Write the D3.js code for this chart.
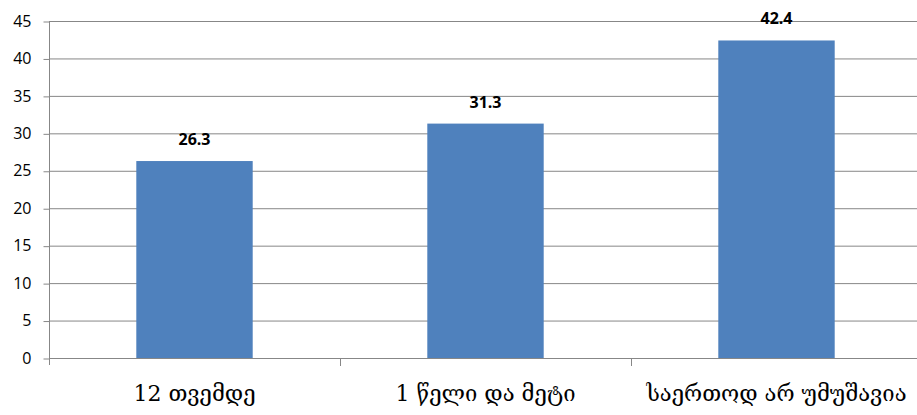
<!DOCTYPE html>
<html><head><meta charset="utf-8">
<script src="https://cdn.jsdelivr.net/npm/d3@7"></script>
<style>body{margin:0;background:#fff}svg{display:block}</style>
</head><body>
<svg id="c" width="917" height="415"></svg>
<script>
const categories = ["12 თვემდე", "1 წელი და მეტი", "საერთოდ არ უმუშავია"];
const values = [26.3, 31.3, 42.4];
const yTicks = [0, 5, 10, 15, 20, 25, 30, 35, 40, 45];

(function () {
const svg = d3.select("#c");
const mLeft = 49, mRight = 922, mTop = 21, mBottom = 358;
const x = d3.scaleBand().domain(categories).range([mLeft, mRight]).paddingInner(0.6).paddingOuter(0.3);
const xb = d3.scaleBand().domain(categories).range([mLeft, mRight]);
const y = d3.scaleLinear().domain([0, 45]).range([mBottom, mTop]);
const grid = "#878787";

// gridlines
svg.append("g").selectAll("line").data(yTicks.filter(d => d > 0)).join("line")
  .attr("x1", mLeft).attr("x2", mRight)
  .attr("y1", d => y(d) + 0.5).attr("y2", d => y(d) + 0.5)
  .attr("stroke", grid).attr("stroke-width", 1);

// bars
svg.append("g").selectAll("rect").data(values).join("rect")
  .attr("x", (d, i) => x(categories[i]))
  .attr("width", x.bandwidth())
  .attr("y", d => y(d))
  .attr("height", d => y(0) - y(d))
  .attr("fill", "#4F81BD");

// y axis
const ya = svg.append("g").attr("transform", `translate(${mLeft + 0.5},0)`)
  .call(d3.axisLeft(y).tickValues(yTicks).tickSize(6).tickPadding(12));
ya.select(".domain").remove();
ya.selectAll("line").attr("stroke", grid).attr("transform", "translate(0,0.5)");
ya.selectAll("text").attr("font-family", "Open Sans, Liberation Sans, sans-serif").attr("font-size", 16).attr("fill", "#000");
svg.append("line").attr("x1", mLeft + 0.5).attr("x2", mLeft + 0.5).attr("y1", mTop).attr("y2", mBottom + 7).attr("stroke", grid);

// x axis
svg.append("line").attr("x1", mLeft).attr("x2", mRight).attr("y1", mBottom + 0.5).attr("y2", mBottom + 0.5).attr("stroke", grid);
svg.append("g").selectAll("line").data(categories.slice(1)).join("line")
  .attr("x1", d => xb(d) + 0.5).attr("x2", d => xb(d) + 0.5)
  .attr("y1", mBottom).attr("y2", mBottom + 8).attr("stroke", grid);
svg.append("g").selectAll("text").data(categories).join("text")
  .attr("x", d => xb(d) + xb.bandwidth() / 2)
  .attr("y", 401)
  .attr("text-anchor", "middle")
  .attr("font-family", "DejaVu Serif, serif")
  .attr("font-size", 22)
  .attr("fill", "#000")
  .text(d => d);

// data labels
svg.append("g").selectAll("text").data(values).join("text")
  .attr("x", (d, i) => x(categories[i]) + x.bandwidth() / 2)
  .attr("y", d => y(d) - 16)
  .attr("text-anchor", "middle")
  .attr("font-family", "Open Sans, Liberation Sans, sans-serif")
  .attr("font-weight", "bold")
  .attr("font-size", 16)
  .attr("fill", "#000")
  .text(d => d.toFixed(1));
})();
</script>
</body></html>
